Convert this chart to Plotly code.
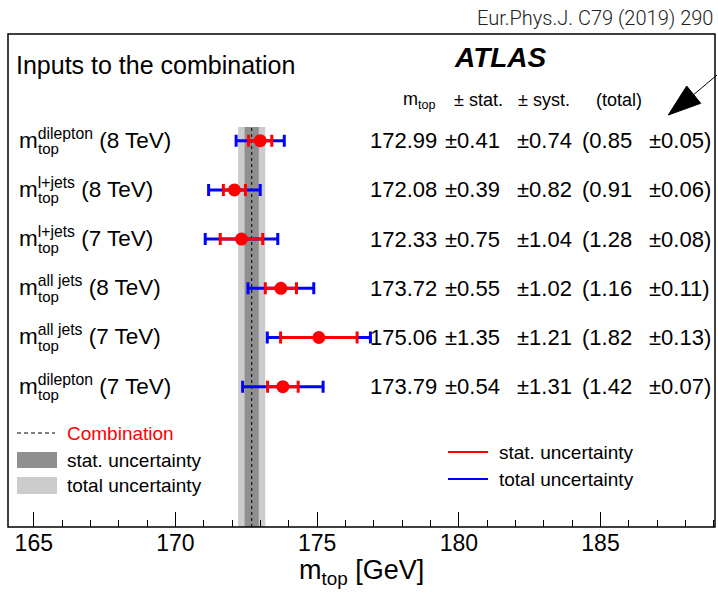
import plotly.graph_objects as go

# ---------------- data ----------------
channels = ["dilepton", "l+jets", "l+jets", "all jets", "all jets", "dilepton"]
energies = ["8 TeV", "8 TeV", "7 TeV", "8 TeV", "7 TeV", "7 TeV"]
mtop = [172.99, 172.08, 172.33, 173.72, 175.06, 173.79]
stat = [0.41, 0.39, 0.75, 0.55, 1.35, 0.54]
syst = [0.74, 0.82, 1.04, 1.02, 1.21, 1.31]
total = [0.85, 0.91, 1.28, 1.16, 1.82, 1.42]
total_unc = [0.05, 0.06, 0.08, 0.11, 0.13, 0.07]
row_pos = [6, 5, 4, 3, 2, 1]

comb_value = 172.69
comb_stat = 0.25
comb_total = 0.48

x_ticks = [165, 170, 175, 180, 185]
x_range = [164.09, 189.04]
y_range = [-1.852, 8.169]
band_top = 6.28

FONT = "Liberation Sans, Arial, Helvetica, sans-serif"
RED = "#ff0000"
BLUE = "#0000ff"
DARK = "#8f8f8f"
LIGHT = "#cccccc"

W, H = 718, 594
ML, MR, MT, MB = 8, 3, 34, 67
PW = W - ML - MR
PH = H - MT - MB


def px(xp):
    return (xp - ML) / PW


def py(yp):
    return (H - MB - yp) / PH


fig = go.Figure()

# total uncertainty (blue)
fig.add_trace(go.Scatter(
    x=mtop, y=row_pos, mode="markers",
    marker=dict(size=1, color="rgba(0,0,0,0)"),
    error_x=dict(type="data", array=total, color=BLUE, thickness=3, width=6),
    showlegend=False, hoverinfo="skip"))
# stat uncertainty (red) + markers
fig.add_trace(go.Scatter(
    x=mtop, y=row_pos, mode="markers",
    marker=dict(size=13, color=RED, line=dict(width=0)),
    error_x=dict(type="data", array=stat, color=RED, thickness=3, width=6),
    showlegend=False, hoverinfo="skip"))

shapes = []
# combination bands
shapes.append(dict(type="rect", xref="x", yref="y", layer="below",
                   x0=comb_value - comb_total, x1=comb_value + comb_total,
                   y0=y_range[0], y1=band_top, fillcolor=LIGHT, line=dict(width=0)))
shapes.append(dict(type="rect", xref="x", yref="y", layer="below",
                   x0=comb_value - comb_stat, x1=comb_value + comb_stat,
                   y0=y_range[0], y1=band_top, fillcolor=DARK, line=dict(width=0)))
shapes.append(dict(type="line", xref="x", yref="y", layer="below",
                   x0=comb_value, x1=comb_value, y0=y_range[0], y1=band_top,
                   line=dict(color="black", width=1, dash="3px,3px")))

# frame
shapes.append(dict(type="rect", xref="paper", yref="paper", x0=0, x1=1, y0=0, y1=1,
                   line=dict(color="black", width=1.5), layer="above"))

# left legend
shapes.append(dict(type="line", xref="paper", yref="paper",
                   x0=px(17), x1=px(55), y0=py(433), y1=py(433),
                   line=dict(color="black", width=1, dash="4px,3px")))
shapes.append(dict(type="rect", xref="paper", yref="paper",
                   x0=px(17), x1=px(57), y0=py(468), y1=py(452),
                   fillcolor=DARK, line=dict(width=0)))
shapes.append(dict(type="rect", xref="paper", yref="paper",
                   x0=px(17), x1=px(57), y0=py(494), y1=py(477),
                   fillcolor=LIGHT, line=dict(width=0)))
# right legend
shapes.append(dict(type="line", xref="paper", yref="paper",
                   x0=px(448), x1=px(488), y0=py(452), y1=py(452),
                   line=dict(color=RED, width=2)))
shapes.append(dict(type="line", xref="paper", yref="paper",
                   x0=px(448), x1=px(488), y0=py(479), y1=py(479),
                   line=dict(color=BLUE, width=2)))

# arrow (decoration)
shapes.append(dict(type="line", xref="paper", yref="paper",
                   x0=px(717), y0=py(75), x1=px(692), y1=py(96),
                   line=dict(color="black", width=1)))
shapes.append(dict(type="path", xref="paper", yref="paper",
                   path=f"M {px(668.3)},{py(115)} L {px(686.7)},{py(86)} L {px(700.7)},{py(103.3)} Z",
                   fillcolor="black", line=dict(color="black", width=1)))

ann = []


def text(x, y, s, size, xref="paper", yref="paper", xanchor="left", color="black",
         yanchor="middle", family=FONT, weight=None, style=None, yshift=0):
    f = dict(family=family, size=size, color=color)
    if weight is not None:
        f["weight"] = weight
    if style is not None:
        f["style"] = style
    ann.append(dict(x=x, y=y, xref=xref, yref=yref, text=s, showarrow=False,
                    xanchor=xanchor, yanchor=yanchor, font=f, yshift=yshift))


# header texts
text(px(14), py(65), "Inputs to the combination", 25)
text(px(500), py(57), "ATLAS", 28, xanchor="center", weight="bold", style="italic")
text(1.0, 1.0, "Eur.Phys.J. C79 (2019) 290", 20, xanchor="right", yanchor="bottom",
     family="Roboto, sans-serif", weight=300, color="#222222", yshift=2)
text(px(401), py(101), "m<sub>top</sub>", 18)
text(px(452), py(100), "± stat.", 18)
text(px(516), py(100), "± syst.", 18)
text(px(594), py(100), "(total)", 18)

# rows
for ch, en, m, s, sy, t, tu, yp in zip(channels, energies, mtop, stat, syst, total, total_unc, row_pos):
    text(px(17), yp, f"m<sup>{ch}</sup> ({en})", 22.5, yref="y", yshift=2)
    text(px(36), yp, "top", 15, yref="y", yshift=-8)
    text(px(439), yp, f"{m:.2f}", 22, yref="y", xanchor="right")
    text(px(443), yp, f"±{s:.2f}", 22, yref="y")
    text(px(515), yp, f"±{sy:.2f}", 22, yref="y")
    text(px(580), yp, f"({t:.2f}", 22, yref="y")
    text(px(647), yp, f"±{tu:.2f})", 22, yref="y")

# legends
text(px(65), py(433), "Combination", 19, color=RED)
text(px(65), py(460), "stat. uncertainty", 19)
text(px(65), py(485.5), "total uncertainty", 19)
text(px(497), py(452), "stat. uncertainty", 19)
text(px(497), py(479), "total uncertainty", 19)

# axis title
text(0.5, py(572), "m<sub>top</sub> [GeV]", 27, xanchor="center")

fig.update_layout(
    width=W, height=H,
    margin=dict(l=ML, r=MR, t=MT, b=MB),
    paper_bgcolor="white", plot_bgcolor="white",
    shapes=shapes, annotations=ann,
    xaxis=dict(range=x_range, tickvals=x_ticks, ticks="inside", ticklen=15,
               tickwidth=1, tickcolor="black", showgrid=False, zeroline=False,
               showline=False, tickfont=dict(family=FONT, size=23, color="black"),
               minor=dict(dtick=1, ticks="inside", ticklen=7, tickcolor="black",
                          tickwidth=1, showgrid=False)),
    yaxis=dict(range=y_range, visible=False, showgrid=False, zeroline=False),
    showlegend=False,
)

fig.write_html("out.html")
